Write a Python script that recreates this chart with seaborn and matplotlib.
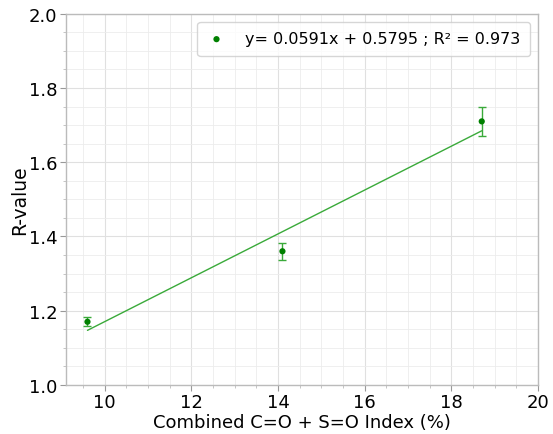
import numpy as np
import pandas as pd
import matplotlib
matplotlib.use("Agg")
import matplotlib.pyplot as plt
import seaborn as sns
from matplotlib.ticker import MultipleLocator

x_vals = [9.6, 14.1, 18.7]
r_vals = [1.17, 1.36, 1.71]
r_err = [0.012, 0.023, 0.039]
slope = 0.0591
intercept = 0.5795
r2 = 0.973

df = pd.DataFrame({"x": x_vals, "r": r_vals, "err": r_err})

sns.set_theme(style="whitegrid")
plt.rcParams["font.family"] = ["DejaVu Sans"]

fig = plt.figure(figsize=(5.53, 4.35), dpi=100)
ax = fig.add_axes([0.119, 0.113, 0.854, 0.853])

fit_x = np.array([df["x"].min(), df["x"].max()])
fit_df = pd.DataFrame({"x": fit_x, "y": slope * fit_x + intercept})
sns.lineplot(data=fit_df, x="x", y="y", ax=ax, color="#3aaa3a", linewidth=1.0, legend=False)

ax.errorbar(df["x"], df["r"], yerr=df["err"], fmt="none", ecolor="#3aaa3a",
            elinewidth=1.0, capsize=2.6, capthick=1.0, zorder=3)
sns.scatterplot(data=df, x="x", y="r", ax=ax, color="green", s=20, edgecolor="none",
                zorder=4, label=f"y= {slope:.4f}x + {intercept:.4f} ; R² = {r2:.3f}")

ax.set_xlim(9.1, 20)
ax.set_ylim(1.0, 2.0)
ax.xaxis.set_major_locator(MultipleLocator(2))
ax.xaxis.set_minor_locator(MultipleLocator(0.5))
ax.yaxis.set_major_locator(MultipleLocator(0.2))
ax.yaxis.set_minor_locator(MultipleLocator(0.05))
ax.grid(which="major", color="#e0e0e0", linewidth=0.8)
ax.grid(which="minor", color="#ececec", linewidth=0.6)
ax.set_axisbelow(True)

for s in ax.spines.values():
    s.set_color("#bbbbbb")
    s.set_linewidth(1.0)

ax.tick_params(which="major", axis="both", direction="out", length=4, width=0.8,
               color="#999999", labelsize=13, labelcolor="black", bottom=True, left=True, pad=2)
ax.tick_params(which="minor", axis="both", direction="out", length=2, width=0.6,
               color="#bbbbbb", bottom=True, left=True)
ax.set_yticks([1.0, 1.2, 1.4, 1.6, 1.8, 2.0])
ax.set_yticklabels([f"{v:.1f}" for v in [1.0, 1.2, 1.4, 1.6, 1.8, 2.0]])
ax.set_xticks([10, 12, 14, 16, 18, 20])
ax.set_xticklabels(["10", "12", "14", "16", "18", "20"])

ax.set_xlabel("Combined C=O + S=O Index (%)", fontsize=13, color="black", labelpad=1)
ax.set_ylabel("R-value", fontsize=13.5, color="black", labelpad=0)

ax.legend(loc="upper right", fontsize=11.5, frameon=True, handletextpad=1.2,
          handlelength=1.2, borderpad=0.6, markerscale=1.0, labelcolor="black")

fig.savefig("out.png", dpi=100)
